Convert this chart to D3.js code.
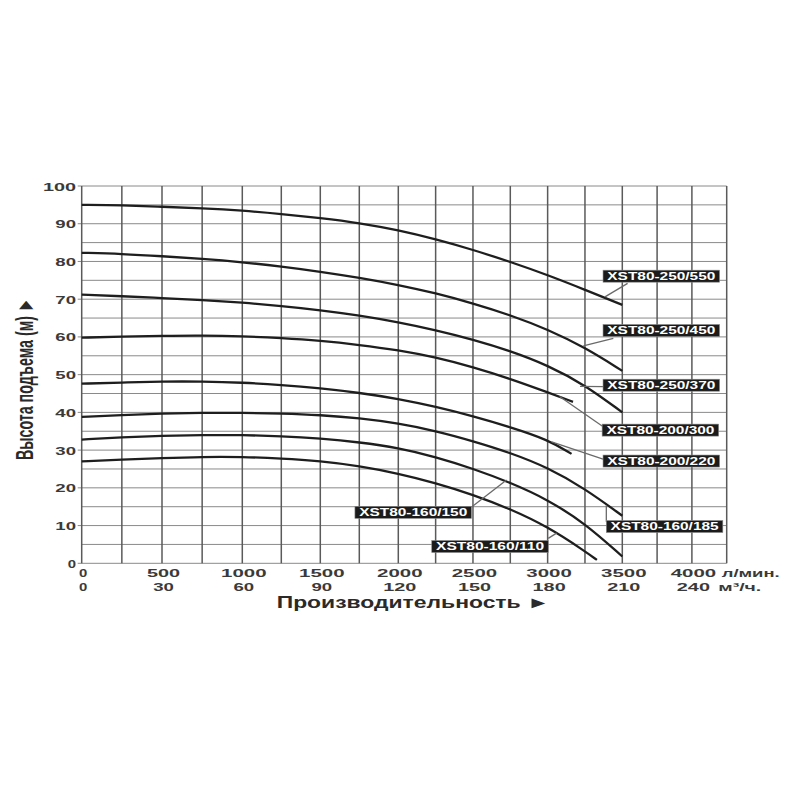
<!DOCTYPE html>
<html><head><meta charset="utf-8">
<script src="https://cdn.jsdelivr.net/npm/d3@7"></script>
<style>body{margin:0;background:#fff}svg{display:block}</style>
</head><body><svg id="c" width="800" height="800"></svg>
<script>
// ---- data ----
const flowStd     = [0,250,500,750,1000,1250,1500,1750,2000,2250,2500,2750,3000,3250,3500];
const flow_200_300 = [0,250,500,750,1000,1250,1500,1750,2000,2250,2500,2750,3000,3170];
const flow_200_220 = [0,250,500,750,1000,1250,1500,1750,2000,2250,2500,2750,3000,3160];
const flow_160_110 = [0,250,500,750,1000,1250,1500,1750,2000,2250,2500,2750,3000,3250,3330];

const head_250_550 = [95.0,94.9,94.5,94.1,93.5,92.6,91.5,90.2,88.3,85.9,83.1,79.9,76.4,72.5,68.5];
const head_250_450 = [82.3,82.0,81.4,80.7,79.8,78.7,77.3,75.7,73.8,71.6,68.9,65.8,62.0,57.2,51.0];
const head_250_370 = [71.2,70.8,70.3,69.8,69.1,68.2,67.1,65.7,63.9,61.8,59.3,56.3,52.5,47.3,40.0];
const head_200_300 = [59.8,60.1,60.3,60.4,60.2,59.7,59.0,57.9,56.5,54.6,52.0,48.9,45.3,42.8];
const head_200_220 = [47.6,47.9,48.2,48.2,47.9,47.3,46.4,45.2,43.6,41.5,39.0,36.1,32.8,29.0];
const head_160_185 = [38.8,39.3,39.7,39.9,39.9,39.7,39.3,38.5,37.1,35.1,32.4,29.3,25.4,19.8,12.6];
const head_160_150 = [32.8,33.4,33.8,34.0,34.0,33.7,33.1,32.1,30.6,28.2,25.1,21.4,16.9,10.6,1.8];
const head_160_110 = [27.0,27.5,27.9,28.2,28.2,27.8,27.1,25.8,23.8,21.3,18.2,14.4,9.7,3.2,0.9];

const seriesNames = ["XST80-250/550","XST80-250/450","XST80-250/370","XST80-200/300",
                     "XST80-200/220","XST80-160/185","XST80-160/150","XST80-160/110"];

const headTicks = [0,10,20,30,40,50,60,70,80,90,100];
const lpmTicks  = [0,500,1000,1500,2000,2500,3000,3500,4000];
const m3hTicks  = ["0","30","60","90","120","150","180","210","240"];
const unitLpm = "л/мин.";
const unitM3h = "м³/ч.";
const xTitle = "Производительность ►";
const yTitle = "Высота подъема (м) ►";

// ---- build series table ----
const series = [
  [flowStd, head_250_550],[flowStd, head_250_450],[flowStd, head_250_370],[flow_200_300, head_200_300],
  [flow_200_220, head_200_220],[flowStd, head_160_185],[flowStd, head_160_150],[flow_160_110, head_160_110]
].map((p,i)=>({name:seriesNames[i], pts:p[0].map((q,j)=>[q,p[1][j]])}));

// label placement (in data units: flow, head) – layout only
const labelLayout = [
  {box:[3371,76.1], lead:[[3538,74.2],[3384,70.6]]},
  {box:[3371,61.7], lead:[[3440,59.6],[3239,57.6]]},
  {box:[3371,47.2], lead:[[3372,46.8],[3217,46.9]]},
  {box:[3365,35.3], lead:[[3365,36.4],[3080,44.2]]},
  {box:[3371,27.1], lead:[[3371,27.6],[3027,32.2]]},
  {box:[3393,9.75], lead:[[3393,11.0],[3393,15.4]]},
  {box:[1722,13.5], lead:[[2491,14.9],[2725,22.1]]},
  {box:[2224,4.45], lead:[[3004,6.6],[3060,8.0]]}
];

// ---- scales ----
const svg = d3.select("#c");
const x = d3.scaleLinear().domain([0,1000,2000,3500,4250]).range([81.7,242.3,398.3,622.3,726.7]);
const y = d3.scaleLinear().domain([0,100]).range([563.3,186]);
const FONT = "'Liberation Sans', Arial, sans-serif";

// ---- grid ----
const g = svg.append("g");
g.selectAll("line.h").data(d3.range(0,101,5)).join("line")
  .attr("x1", d=> headTicks.includes(d) ? x(0)-4 : x(0)).attr("x2", x(4250))
  .attr("y1", d=>y(d)).attr("y2", d=>y(d))
  .attr("stroke", "#8a8a8a").attr("stroke-width", 1);
g.selectAll("line.v").data(d3.range(0,4251,250)).join("line")
  .attr("x1", d=>x(d)).attr("x2", d=>x(d))
  .attr("y1", y(0)).attr("y2", y(100))
  .attr("stroke", "#5a5a5a").attr("stroke-width", 1.5);

// ---- tick labels ----
function tlen(s){ return 12.4*s.length - 4.1; }
svg.append("g").selectAll("text").data(headTicks).join("text")
  .attr("x", 76).attr("y", d=>y(d)+4.5)
  .attr("text-anchor","end").attr("font-family",FONT).attr("font-weight","bold")
  .attr("font-size",11.6).attr("fill","#3a3a3a")
  .attr("textLength", d=>tlen(String(d))).attr("lengthAdjust","spacingAndGlyphs")
  .text(d=>d);
svg.append("g").selectAll("text").data(lpmTicks).join("text")
  .attr("x", d=>x(d)+1.5).attr("y", 576.7)
  .attr("text-anchor","middle").attr("font-family",FONT).attr("font-weight","bold")
  .attr("font-size",11.6).attr("fill","#3a3a3a")
  .attr("textLength", d=>tlen(String(d))).attr("lengthAdjust","spacingAndGlyphs")
  .text(d=>d);
svg.append("g").selectAll("text").data(m3hTicks).join("text")
  .attr("x", (d,i)=>x(lpmTicks[i])+1.5).attr("y", 590.7)
  .attr("text-anchor","middle").attr("font-family",FONT).attr("font-weight","bold")
  .attr("font-size",11.6).attr("fill","#3a3a3a")
  .attr("textLength", d=>tlen(d)).attr("lengthAdjust","spacingAndGlyphs")
  .text(d=>d);
svg.append("text").attr("x",721.7).attr("y",576.7).attr("font-family",FONT).attr("font-weight","bold")
  .attr("font-size",11.6).attr("fill","#3a3a3a").attr("textLength",58).attr("lengthAdjust","spacingAndGlyphs")
  .text(unitLpm);
svg.append("text").attr("x",718.3).attr("y",590.7).attr("font-family",FONT).attr("font-weight","bold")
  .attr("font-size",11.6).attr("fill","#3a3a3a").attr("textLength",43).attr("lengthAdjust","spacingAndGlyphs")
  .text(unitM3h);

// ---- axis titles ----
svg.append("text").attr("x",276.7).attr("y",608.3).attr("font-family",FONT).attr("font-weight","bold")
  .attr("font-size",16.2).attr("fill","#2a2a2a").attr("textLength",273).attr("lengthAdjust","spacingAndGlyphs")
  .text(xTitle);
svg.append("g").attr("transform","translate(33,379) rotate(-90) scale(1,1.5)")
  .append("text").attr("x",0).attr("y",0).attr("text-anchor","middle")
  .attr("font-family",FONT).attr("font-weight","bold").attr("font-size",16)
  .attr("fill","#2a2a2a").attr("textLength",162).attr("lengthAdjust","spacingAndGlyphs")
  .text(yTitle);

// ---- curves ----
const line = d3.line().x(d=>x(d[0])).y(d=>y(d[1])).curve(d3.curveBasis);
svg.append("g").selectAll("path").data(series).join("path")
  .attr("d", d=>line(d.pts)).attr("fill","none")
  .attr("stroke","#1e1e1e").attr("stroke-width",2.3).attr("stroke-linecap","butt");

// ---- labels ----
const lg = svg.append("g");
lg.selectAll("line").data(labelLayout).join("line")
  .attr("x1", d=>x(d.lead[0][0])).attr("y1", d=>y(d.lead[0][1]))
  .attr("x2", d=>x(d.lead[1][0])).attr("y2", d=>y(d.lead[1][1]))
  .attr("stroke","#6a6a6a").attr("stroke-width",1.3);
const boxes = lg.selectAll("g.lb").data(labelLayout).join("g")
  .attr("transform", d=>`translate(${x(d.box[0])},${y(d.box[1])})`);
boxes.append("rect").attr("x",0).attr("y",-6).attr("width",116.5).attr("height",12)
  .attr("fill","#1b1b1b").attr("stroke","#8a8a8a").attr("stroke-width",0.6);
boxes.append("text").attr("x",4.3).attr("y",3.7)
  .attr("font-family",FONT).attr("font-weight","bold").attr("font-size",10.2).attr("fill","#fff")
  .attr("textLength",108).attr("lengthAdjust","spacingAndGlyphs")
  .text((d,i)=>seriesNames[i]);
</script></body></html>
